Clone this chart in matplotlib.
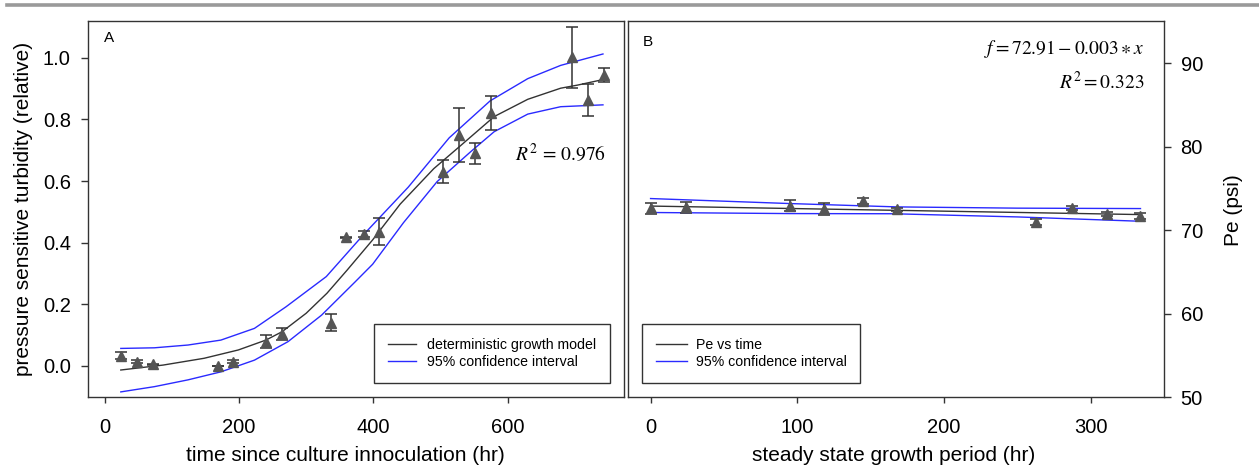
import matplotlib
matplotlib.use('Agg')
import matplotlib.pyplot as plt
from matplotlib.lines import Line2D

plt.rcParams['font.family'] = ['Liberation Sans', 'DejaVu Sans']
plt.rcParams['mathtext.fontset'] = 'stix'

# ---- Panel A: growth data (hr, relative turbidity, error) ----
a_time = [24, 48, 72, 169, 191, 240, 264, 337, 360, 386, 409, 504, 528, 551, 575, 696, 720, 743]
a_turb = [0.034, 0.014, 0.005, 0.0, 0.014, 0.079, 0.103, 0.14, 0.417, 0.428, 0.436,
          0.63, 0.749, 0.69, 0.82, 1.001, 0.863, 0.944]
a_err = [0.01, 0.004, 0.003, 0.0, 0.004, 0.02, 0.02, 0.028, 0.003, 0.01, 0.044,
         0.038, 0.088, 0.034, 0.056, 0.1, 0.052, 0.023]

# model curve and 95% band
model_x = [24, 87, 148, 199, 240, 264, 300, 331, 361, 399, 440, 490, 528, 580, 630, 679, 704, 742]
model_y = [-0.013, 0.003, 0.025, 0.052, 0.084, 0.111, 0.171, 0.236, 0.311, 0.409, 0.525,
           0.64, 0.711, 0.809, 0.865, 0.901, 0.911, 0.929]
upper_x = [24, 74, 124, 173, 223, 270, 330, 385, 452, 513, 574, 630, 679, 742]
upper_y = [0.057, 0.059, 0.068, 0.084, 0.122, 0.192, 0.29, 0.425, 0.58, 0.74, 0.86,
           0.932, 0.975, 1.012]
lower_x = [24, 74, 124, 173, 223, 273, 323, 373, 399, 445, 495, 545, 580, 630, 679, 742]
lower_y = [-0.084, -0.067, -0.045, -0.019, 0.019, 0.079, 0.165, 0.273, 0.33, 0.465,
           0.598, 0.695, 0.760, 0.817, 0.841, 0.847]

# ---- Panel B: steady state Pe ----
b_time = [0, 24, 95, 118, 145, 168, 263, 287, 311, 334]
b_pe = [72.61, 72.76, 72.92, 72.53, 73.48, 72.52, 71.0, 72.68, 71.96, 71.68]
b_err = [0.66, 0.68, 0.66, 0.7, 0.34, 0.2, 0.36, 0.28, 0.24, 0.38]

b_fit_x = [0, 334]
b_fit_y = [72.9, 71.88]
b_up_x = [0, 95, 168, 250, 334]
b_up_y = [73.8, 73.2, 72.8, 72.65, 72.6]
b_lo_x = [0, 95, 165, 250, 334]
b_lo_y = [72.13, 72.0, 71.98, 71.6, 71.08]

a_ticks_x = [0, 200, 400, 600]
a_ticks_y = [0.0, 0.2, 0.4, 0.6, 0.8, 1.0]
b_ticks_x = [0, 100, 200, 300]
b_ticks_y = [50, 60, 70, 80, 90]

dark = '#333333'
blue = '#2a2aff'
mark = '#555555'

fig = plt.figure(figsize=(12.59, 4.69), dpi=100)
axA = fig.add_axes([0.0695, 0.1529, 0.4265, 0.803])
axB = fig.add_axes([0.4988, 0.1529, 0.4257, 0.803])

# grey bar at the top
fig.add_artist(Line2D([0.0056, 1.0], [0.9883, 0.9883], color='#9a9a9a', lw=2.6))

# ==========================
# PANEL A
# ==========================
axA.plot(model_x, model_y, color=dark, lw=1.0, label='deterministic growth model')
axA.plot(upper_x, upper_y, color=blue, lw=1.0, label='95% confidence interval')
axA.plot(lower_x, lower_y, color=blue, lw=1.0)
axA.errorbar(a_time, a_turb, yerr=a_err, fmt='^', color=mark, ms=6.5, ecolor=dark,
             elinewidth=1.1, capsize=4.3, capthick=1.1, zorder=3)
axA.set_xlim(-25.6, 774)
axA.set_ylim(-0.1015, 1.12)
axA.set_xticks(a_ticks_x)
axA.set_yticks(a_ticks_y)
axA.set_yticklabels([f'{v:.1f}' for v in a_ticks_y])
axA.set_xlabel('time since culture innoculation (hr)', fontsize=15)
axA.set_ylabel('pressure sensitive turbidity (relative)', fontsize=15)
axA.xaxis.set_label_coords(0.481, -0.129)
axA.yaxis.set_label_coords(-0.1015, 0.5)
axA.text(0.031, 0.954, 'A', transform=axA.transAxes, fontsize=11, va='center', ha='left')
axA.text(0.965, 0.648, r'$R^2\,{=}\,0.976$', transform=axA.transAxes, fontsize=14,
         va='center', ha='right')
axA.legend(loc='lower right', bbox_to_anchor=(0.973, 0.039), fontsize=10.2,
           fancybox=False, edgecolor=dark, framealpha=1, handlelength=2.0,
           handletextpad=0.8, borderpad=0.95, labelspacing=0.25, borderaxespad=0)

# ==========================
# PANEL B
# ==========================
axB.plot(b_fit_x, b_fit_y, color=dark, lw=1.0, label='Pe vs time')
axB.plot(b_up_x, b_up_y, color=blue, lw=1.0, label='95% confidence interval')
axB.plot(b_lo_x, b_lo_y, color=blue, lw=1.0)
axB.errorbar(b_time, b_pe, yerr=b_err, fmt='^', color=mark, ms=6.5, ecolor=dark,
             elinewidth=1.1, capsize=4.3, capthick=1.1, zorder=3)
axB.set_xlim(-15.4, 350)
axB.set_ylim(50, 95.1)
axB.set_xticks(b_ticks_x)
axB.set_yticks(b_ticks_y)
axB.yaxis.tick_right()
axB.yaxis.set_label_position('right')
axB.set_xlabel('steady state growth period (hr)', fontsize=15)
axB.set_ylabel('Pe (psi)', fontsize=15)
axB.xaxis.set_label_coords(0.496, -0.129)
axB.yaxis.set_label_coords(1.112, 0.4965)
axB.text(0.027, 0.944, 'B', transform=axB.transAxes, fontsize=11, va='center', ha='left')
axB.text(0.9646, 0.926, r'$f = 72.91 - 0.003 \ast x$', transform=axB.transAxes,
         fontsize=14, va='center', ha='right')
axB.text(0.9646, 0.838, r'$R^2 = 0.323$', transform=axB.transAxes, fontsize=14,
         va='center', ha='right')
axB.legend(loc='lower left', bbox_to_anchor=(0.027, 0.039), fontsize=10.2,
           fancybox=False, edgecolor=dark, framealpha=1, handlelength=2.2,
           handletextpad=0.6, borderpad=0.95, labelspacing=0.25, borderaxespad=0)

for ax in (axA, axB):
    for s in ax.spines.values():
        s.set_color(dark)
        s.set_linewidth(1.0)
    ax.tick_params(direction='out', width=1.0, color=dark, labelsize=14.5)
    ax.tick_params(axis='x', length=4, pad=11)
    ax.tick_params(axis='y', length=5, pad=7)

fig.savefig('out.png', dpi=100)
